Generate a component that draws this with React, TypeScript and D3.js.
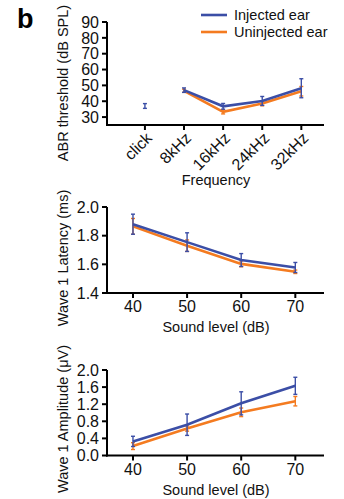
import React from "react";
import * as d3 from "d3";

const BLUE = "#3b4ea6";
const ORANGE = "#f47b20";
const FONT = "Liberation Sans, Arial, sans-serif";

// Panel 1: ABR threshold
const freqCategories = ["click", "8kHz", "16kHz", "24kHz", "32kHz"];
const connected = [false, true, true, true, true];
const abrInjected = [37, 47, 36.8, 40.2, 48.2];
const abrInjectedErr = [1.5, 1.4, 1.8, 2.8, 6];
const abrUninjected = [null, 46.6, 33.3, 38.6, 46.3];
const abrUninjectedErr = [null, 1.0, 1.3, 1.5, 3];
const abrTicks = [30, 40, 50, 60, 70, 80, 90];

// Panel 2: latency
const soundLevels = [40, 50, 60, 70];
const latInjected = [1.88, 1.755, 1.63, 1.578];
const latInjectedErr = [0.07, 0.065, 0.045, 0.035];
const latUninjected = [1.865, 1.73, 1.603, 1.548];
const latUninjectedErr = [0.055, 0.04, 0.02, 0.012];
const latTicks = [1.4, 1.6, 1.8, 2.0];

// Panel 3: amplitude
const ampInjected = [0.33, 0.72, 1.22, 1.63];
const ampInjectedErr = [0.12, 0.25, 0.27, 0.2];
const ampUninjected = [0.22, 0.63, 1.01, 1.27];
const ampUninjectedErr = [0.08, 0.06, 0.1, 0.11];
const ampTicks = [0.0, 0.4, 0.8, 1.2, 1.6, 2.0];

type Series = { vals: (number | null)[]; errs: (number | null)[]; color: string };

function Lines({
  xs,
  y,
  series,
  link,
}: {
  xs: number[];
  y: d3.ScaleLinear<number, number>;
  series: Series[];
  link?: boolean[];
}) {
  return (
    <g>
      {series.map((s, si) => {
        const pts = s.vals
          .map((v, i) => (v == null || (link && !link[i]) ? null : ([xs[i], y(v)] as [number, number])))
          .filter((p) => p != null) as [number, number][];
        const line = d3.line()(pts) || "";
        return (
          <g key={si}>
            <path d={line} fill="none" stroke={s.color} strokeWidth={2.6} />
            {s.vals.map((v, i) => {
              const e = s.errs[i];
              if (v == null || e == null) return null;
              const x = xs[i];
              const y1 = y(v - e);
              const y2 = y(v + e);
              return (
                <g key={i} stroke={s.color} strokeWidth={1.4}>
                  <line x1={x} x2={x} y1={y1} y2={y2} />
                  <line x1={x - 2} x2={x + 2} y1={y1} y2={y1} />
                  <line x1={x - 2} x2={x + 2} y1={y2} y2={y2} />
                </g>
              );
            })}
          </g>
        );
      })}
    </g>
  );
}

function YAxis({ y, ticks, x0, fmt, title, titleX, titleY }: any) {
  const [r0, r1] = y.range();
  return (
    <g>
      <line x1={x0} x2={x0} y1={r0 + 1} y2={r1} stroke="#000" strokeWidth={2} />
      {ticks.map((t: number) => (
        <g key={t}>
          <line x1={x0 - 5} x2={x0} y1={y(t)} y2={y(t)} stroke="#000" strokeWidth={2} />
          <text x={x0 - 8} y={y(t)} dy="0.36em" textAnchor="end" fontSize={16} fontFamily={FONT} fill="#111">
            {fmt(t)}
          </text>
        </g>
      ))}
      <text
        transform={`translate(${titleX},${titleY}) rotate(-90)`}
        textAnchor="middle"
        fontSize={14.5}
        fontFamily={FONT}
        fill="#111"
      >
        {title}
      </text>
    </g>
  );
}

export default function App() {
  const x0 = 107;
  const xEnd = 324;

  // Panel 1
  const x1 = d3.scaleLinear().domain([-0.97, 4.58]).range([x0, xEnd]);
  const y1 = d3.scaleLinear().domain([25, 90]).range([125, 22]);
  const xs1 = freqCategories.map((_, i) => x1(i));

  // Panel 2
  const x2 = d3.scaleLinear().domain([35.2, 75.3]).range([x0, xEnd]);
  const y2 = d3.scaleLinear().domain([1.4, 2.0]).range([293, 207]);
  const xs2 = soundLevels.map((v) => x2(v));

  // Panel 3
  const y3 = d3.scaleLinear().domain([0, 2.0]).range([455.5, 370]);

  const fmt1 = (t: number) => d3.format("d")(t);
  const fmt2 = (t: number) => d3.format(".1f")(t);

  return (
    <svg width={344} height={499} style={{ position: "absolute", left: 0, top: 0 }}>
      <rect width={344} height={499} fill="#fff" />
      <text x={17} y={28} fontSize={27} fontWeight="bold" fontFamily={FONT} fill="#000">
        b
      </text>

      {/* Legend */}
      <line x1={201} x2={227} y1={15} y2={15} stroke={BLUE} strokeWidth={2.6} />
      <text x={234} y={15} dy="0.36em" fontSize={14.5} fontFamily={FONT} fill="#111">
        Injected ear
      </text>
      <line x1={201} x2={227} y1={32} y2={32} stroke={ORANGE} strokeWidth={2.6} />
      <text x={234} y={32} dy="0.36em" fontSize={14.5} fontFamily={FONT} fill="#111">
        Uninjected ear
      </text>

      {/* Panel 1 */}
      <YAxis y={y1} ticks={abrTicks} x0={x0} fmt={fmt1} title="ABR threshold (dB SPL)" titleX={68} titleY={83} />
      <line x1={x0 - 1} x2={xEnd} y1={125} y2={125} stroke="#000" strokeWidth={2} />
      {xs1.map((x, i) => (
        <g key={i}>
          <line x1={x} x2={x} y1={125} y2={130} stroke="#000" strokeWidth={2} />
          <text
            transform={`translate(${x + 4},${135}) rotate(-45)`}
            textAnchor="end"
            dy="0.36em"
            fontSize={16}
            fontFamily={FONT}
            fill="#111"
          >
            {freqCategories[i]}
          </text>
        </g>
      ))}
      <text x={216} y={185} textAnchor="middle" fontSize={14.5} fontFamily={FONT} fill="#111">
        Frequency
      </text>
      <Lines
        xs={xs1}
        y={y1}
        link={connected}
        series={[
          { vals: abrUninjected, errs: abrUninjectedErr, color: ORANGE },
          { vals: abrInjected, errs: abrInjectedErr, color: BLUE },
        ]}
      />

      {/* Panel 2 */}
      <YAxis y={y2} ticks={latTicks} x0={x0} fmt={fmt2} title="Wave 1 Latency (ms)" titleX={68} titleY={258} />
      <line x1={x0 - 1} x2={xEnd} y1={293} y2={293} stroke="#000" strokeWidth={2} />
      {soundLevels.map((v, i) => (
        <g key={v}>
          <line x1={xs2[i]} x2={xs2[i]} y1={293} y2={298} stroke="#000" strokeWidth={2} />
          <text x={xs2[i]} y={312} textAnchor="middle" fontSize={16} fontFamily={FONT} fill="#111">
            {v}
          </text>
        </g>
      ))}
      <text x={216} y={332} textAnchor="middle" fontSize={14.5} fontFamily={FONT} fill="#111">
        Sound level (dB)
      </text>
      <Lines
        xs={xs2}
        y={y2}
        series={[
          { vals: latUninjected, errs: latUninjectedErr, color: ORANGE },
          { vals: latInjected, errs: latInjectedErr, color: BLUE },
        ]}
      />

      {/* Panel 3 */}
      <YAxis y={y3} ticks={ampTicks} x0={x0} fmt={fmt2} title="Wave 1 Amplitude (μV)" titleX={68} titleY={419} />
      <line x1={x0 - 1} x2={xEnd} y1={455.5} y2={455.5} stroke="#000" strokeWidth={2} />
      {soundLevels.map((v, i) => (
        <g key={v}>
          <line x1={xs2[i]} x2={xs2[i]} y1={455.5} y2={460.5} stroke="#000" strokeWidth={2} />
          <text x={xs2[i]} y={475} textAnchor="middle" fontSize={16} fontFamily={FONT} fill="#111">
            {v}
          </text>
        </g>
      ))}
      <text x={216} y={495} textAnchor="middle" fontSize={14.5} fontFamily={FONT} fill="#111">
        Sound level (dB)
      </text>
      <Lines
        xs={xs2}
        y={y3}
        series={[
          { vals: ampUninjected, errs: ampUninjectedErr, color: ORANGE },
          { vals: ampInjected, errs: ampInjectedErr, color: BLUE },
        ]}
      />
    </svg>
  );
}
